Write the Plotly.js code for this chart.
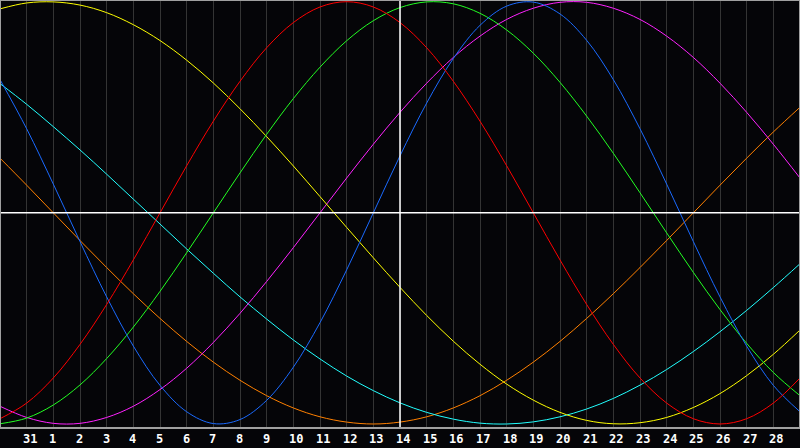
<!DOCTYPE html>
<html>
<head>
<meta charset="utf-8">
<script src="https://cdn.plot.ly/plotly-3.0.1.min.js"></script>
<style>
html,body{margin:0;padding:0;background:#050508;}
#chart{width:800px;height:448px;}
</style>
</head>
<body>
<div id="chart"></div>
<script>
// Day slots (index 0 = Jan 30 ... index 30 = Mar 1)
const dayIndex = [0,1,2,3,4,5,6,7,8,9,10,11,12,13,14,15,16,17,18,19,20,21,22,23,24,25,26,27,28,29,30];
const tickIndex = [1,2,3,4,5,6,7,8,9,10,11,12,13,14,15,16,17,18,19,20,21,22,23,24,25,26,27,28,29];
const tickLabels = ['31','1','2','3','4','5','6','7','8','9','10','11','12','13','14','15','16','17','18','19','20','21','22','23','24','25','26','27','28'];
const todayIndex = 15;

const redValues = [-0.975,-0.901,-0.782,-0.623,-0.434,-0.223,0,0.223,0.434,0.623,0.782,0.901,0.975,1,0.975,0.901,0.782,0.623,0.434,0.223,0,-0.223,-0.434,-0.623,-0.782,-0.901,-0.975,-1,-0.975,-0.901,-0.782];
const greenValues = [-0.999,-0.972,-0.910,-0.815,-0.690,-0.541,-0.372,-0.189,0,0.189,0.372,0.541,0.690,0.815,0.910,0.972,0.999,0.990,0.945,0.866,0.756,0.618,0.458,0.282,0.095,-0.095,-0.282,-0.458,-0.618,-0.756,-0.866];
const blueValues = [0.631,0.398,0.136,-0.136,-0.398,-0.631,-0.817,-0.942,-0.998,-0.979,-0.888,-0.731,-0.520,-0.270,0,0.270,0.520,0.731,0.888,0.979,0.998,0.942,0.817,0.631,0.398,0.136,-0.136,-0.398,-0.631,-0.817,-0.942];
const yellowValues = [0.966,0.994,0.999,0.984,0.948,0.891,0.816,0.723,0.615,0.493,0.361,0.222,0.077,-0.069,-0.213,-0.353,-0.486,-0.608,-0.717,-0.811,-0.887,-0.945,-0.983,-0.999,-0.994,-0.969,-0.922,-0.856,-0.771,-0.670,-0.555];
const cyanValues = [0.612,0.514,0.408,0.298,0.183,0.065,-0.053,-0.171,-0.286,-0.398,-0.503,-0.602,-0.692,-0.773,-0.842,-0.900,-0.945,-0.977,-0.996,-1.000,-0.990,-0.966,-0.929,-0.879,-0.816,-0.742,-0.657,-0.563,-0.462,-0.354,-0.241];
const magentaValues = [-0.916,-0.969,-0.997,-0.997,-0.969,-0.916,-0.837,-0.736,-0.614,-0.476,-0.325,-0.165,0,0.165,0.325,0.476,0.614,0.736,0.837,0.916,0.969,0.997,0.997,0.969,0.916,0.837,0.736,0.614,0.476,0.325,0.165];
const orangeValues = [0.259,0.131,0,-0.131,-0.259,-0.383,-0.5,-0.609,-0.707,-0.793,-0.866,-0.924,-0.966,-0.991,-1,-0.991,-0.966,-0.924,-0.866,-0.793,-0.707,-0.609,-0.5,-0.383,-0.259,-0.131,0,0.131,0.259,0.383,0.5];

const series = [
  {values: orangeValues, color: '#ff8000'},
  {values: cyanValues, color: '#22ffff'},
  {values: magentaValues, color: '#ff22ff'},
  {values: yellowValues, color: '#ffff00'},
  {values: greenValues, color: '#22ff22'},
  {values: blueValues, color: '#1a6aff'},
  {values: redValues, color: '#ff0000'}
];

const traces = series.map(s => ({
  x: dayIndex, y: s.values, type: 'scatter', mode: 'lines',
  line: {color: s.color, width: 1, shape: 'spline', smoothing: 1},
  hoverinfo: 'skip'
}));

const annotations = tickLabels.map((t, k) => ({
  x: tickIndex[k], xref: 'x', y: 0, yref: 'paper',
  text: t, showarrow: false, xanchor: 'left', yanchor: 'middle',
  xshift: -6, yshift: -11,
  font: {family: 'DejaVu Sans Mono', size: 12, color: '#ffffff', weight: 'bold'}
}));

const layout = {
  width: 800, height: 448,
  margin: {l: 0, r: 0, t: 0, b: 20, pad: 0},
  paper_bgcolor: '#050508', plot_bgcolor: '#050508',
  showlegend: false,
  xaxis: {
    range: [0, 30], tickmode: 'linear', tick0: 0, dtick: 1,
    showgrid: true, gridcolor: '#343434', gridwidth: 1,
    showticklabels: false, ticks: '', zeroline: false, showline: false
  },
  yaxis: {
    range: [-1.019, 1.008], showgrid: false, showticklabels: false, ticks: '',
    zeroline: false, showline: false
  },
  shapes: [
    {type: 'line', xref: 'x', yref: 'y', x0: todayIndex, x1: todayIndex, y0: -1.019, y1: 1.008,
     line: {color: '#ffffff', width: 1.5}, layer: 'above'},
    {type: 'line', xref: 'x', yref: 'y', x0: 0, x1: 30, y0: 0, y1: 0,
     line: {color: '#ffffff', width: 1.5}, layer: 'above'},
    {type: 'rect', xref: 'paper', yref: 'paper', x0: 0, x1: 1, y0: 0, y1: 1,
     line: {color: '#a0a0a0', width: 2}, layer: 'above'}
  ],
  annotations: annotations
};

Plotly.newPlot('chart', traces, layout, {staticPlot: true, displayModeBar: false});
</script>
</body>
</html>
